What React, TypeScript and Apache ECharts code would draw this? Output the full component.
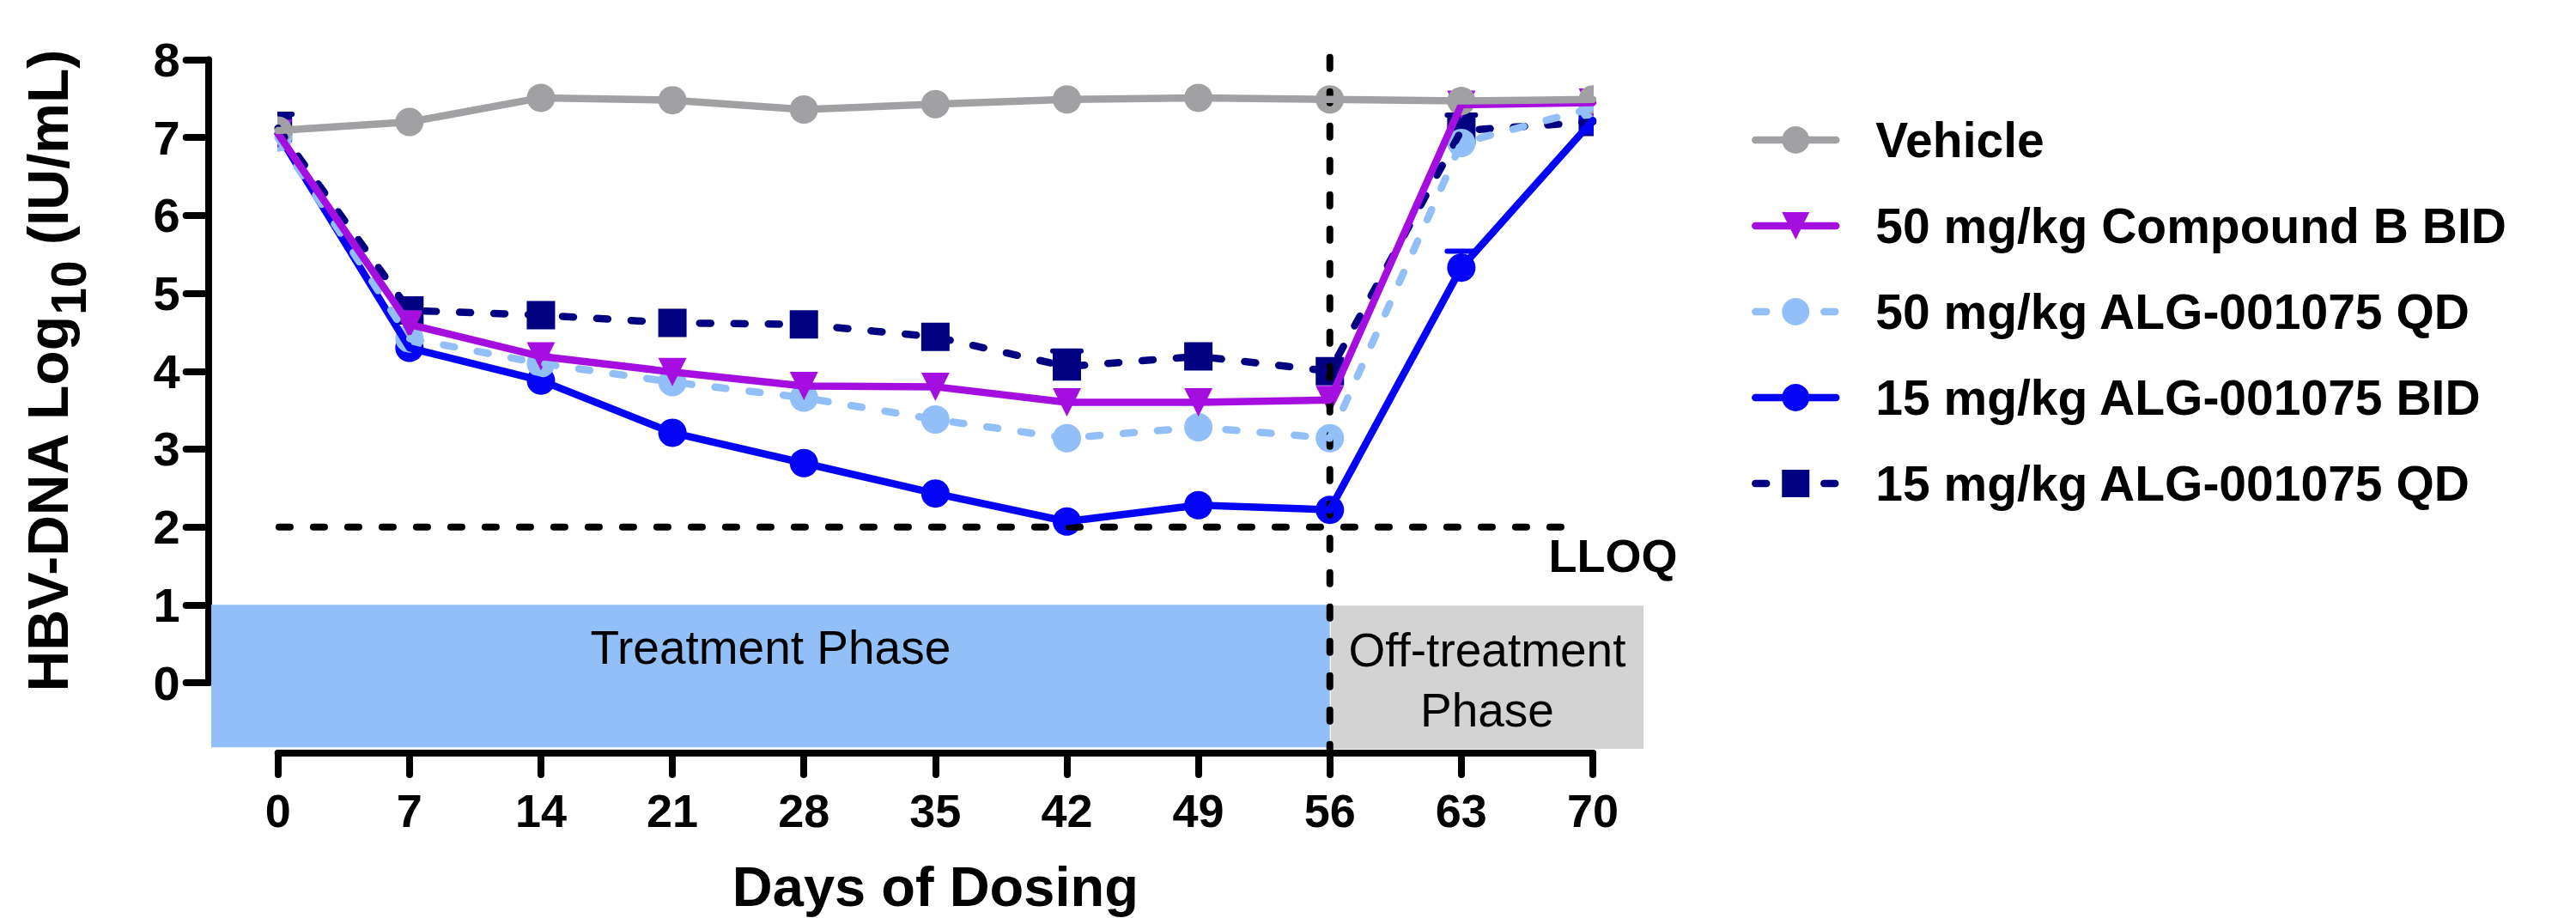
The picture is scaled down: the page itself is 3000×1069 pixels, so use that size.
import React, { useEffect, useRef } from 'react';
import * as echarts from 'echarts';

// ---- data ----
const days = [0, 7, 14, 21, 28, 35, 42, 49, 56, 63, 70];
const xTicks = [0, 7, 14, 21, 28, 35, 42, 49, 56, 63, 70];
const yTicks = [0, 1, 2, 3, 4, 5, 6, 7, 8];

const seriesNames = [
  'Vehicle',
  '50 mg/kg Compound B BID',
  '50 mg/kg ALG-001075 QD',
  '15 mg/kg ALG-001075 BID',
  '15 mg/kg ALG-001075 QD',
];
const vehicle = [7.09, 7.2, 7.51, 7.48, 7.36, 7.43, 7.49, 7.51, 7.49, 7.47, 7.49];
const compoundB_BID = [7.05, 4.6, 4.19, 3.99, 3.81, 3.8, 3.6, 3.6, 3.63, 7.42, 7.45];
const alg50_QD = [7.0, 4.42, 4.1, 3.86, 3.66, 3.38, 3.14, 3.28, 3.14, 6.93, 7.38];
const alg15_BID = [7.05, 4.3, 3.88, 3.21, 2.82, 2.43, 2.07, 2.28, 2.22, 5.33, 7.22];
const alg15_QD = [7.12, 4.78, 4.72, 4.62, 4.6, 4.44, 4.06, 4.19, 4.0, 7.09, 7.2];
const zeroErr = [0, 0, 0, 0, 0, 0, 0, 0, 0, 0, 0];
const alg15_BID_err = [0, 0, 0, 0, 0, 0, 0, 0, 0, 0.21, 0];
const alg15_QD_err = [0.18, 0, 0, 0, 0, 0, 0.2, 0, 0, 0.2, 0];

const phaseNames = ['Treatment Phase', 'Off-treatment\nPhase'];
const phaseStart = [-3.55, 56.05];
const phaseEnd = [56, 72.7];
const phaseTop = [1.0, 0.99];
const phaseBottom = [-0.83, -0.85];
const phaseLabelY = [0.45, 0.03];

const lloqValue = 2;
const lloqExtent = [-3.6, 69];
const dosingEnd = 56;
const dosingEndExtent = [8.03, -0.9];
const annotationTexts = ['LLOQ'];
const annotationPos = [[74.5, 1.63]];

// ---- styles ----
const FONT = '"Liberation Sans", Arial, Helvetica, sans-serif';
const phaseColors = ['#92bff8', '#d3d3d3'];
const SYM = 33;
const LW = 8.5;
const AXW = 8;
const DASH = [13, 27];

type Grp = {
  name: string;
  values: number[];
  err: number[];
  color: string;
  dashed: boolean;
  symbol: 'circle' | 'rect' | 'triangle';
};

const groups: Grp[] = [
  { name: seriesNames[0], values: vehicle, err: zeroErr, color: '#a1a1a4', dashed: false, symbol: 'circle' },
  { name: seriesNames[1], values: compoundB_BID, err: zeroErr, color: '#a40fe0', dashed: false, symbol: 'triangle' },
  { name: seriesNames[2], values: alg50_QD, err: zeroErr, color: '#92bff8', dashed: true, symbol: 'circle' },
  { name: seriesNames[3], values: alg15_BID, err: alg15_BID_err, color: '#0505f5', dashed: false, symbol: 'circle' },
  { name: seriesNames[4], values: alg15_QD, err: alg15_QD_err, color: '#000080', dashed: true, symbol: 'rect' },
];
// drawing order (bottom -> top)
const drawOrder = [4, 3, 2, 1, 0];

function markerShape(kind: string, x: number, y: number, color: string) {
  const h = SYM / 2;
  if (kind === 'rect') {
    return { type: 'rect', shape: { x: x - h, y: y - h, width: SYM, height: SYM }, style: { fill: color } };
  }
  if (kind === 'triangle') {
    return {
      type: 'polygon',
      shape: { points: [[x - h, y - h], [x + h, y - h], [x, y + h]] },
      style: { fill: color },
    };
  }
  return { type: 'circle', shape: { cx: x, cy: y, r: h }, style: { fill: color } };
}

function buildOption() {
  const series: any[] = [];

  // phase boxes
  series.push({
    type: 'custom',
    name: 'phases',
    silent: true,
    clip: false,
    encode: { x: [0, 1], y: [2, 3] },
    data: phaseNames.map((_, i) => [phaseStart[i], phaseEnd[i], phaseTop[i], phaseBottom[i], phaseLabelY[i]]),
    renderItem: (params: any, api: any) => {
      const i = params.dataIndex;
      const p0 = api.coord([api.value(0), api.value(2)]);
      const p1 = api.coord([api.value(1), api.value(3)]);
      const ly = api.coord([api.value(0), api.value(4)])[1];
      return {
        type: 'group',
        children: [
          {
            type: 'rect',
            shape: { x: p0[0], y: p0[1], width: p1[0] - p0[0], height: p1[1] - p0[1] },
            style: { fill: phaseColors[i] },
          },
          {
            type: 'text',
            x: (p0[0] + p1[0]) / 2,
            y: ly,
            style: {
              text: phaseNames[i],
              fill: '#000',
              fontSize: 55,
              fontFamily: FONT,
              align: 'center',
              verticalAlign: 'middle',
              lineHeight: 70,
            },
          },
        ],
      };
    },
  });

  // reference lines
  series.push({
    type: 'line',
    name: 'LLOQ line',
    silent: true,
    clip: false,
    symbol: 'none',
    data: lloqExtent.map((x) => [x, lloqValue]),
    lineStyle: { color: '#000', width: AXW, type: DASH, cap: 'round' },
  });
  series.push({
    type: 'line',
    name: 'Dosing end',
    silent: true,
    clip: false,
    symbol: 'none',
    data: dosingEndExtent.map((y) => [dosingEnd, y]),
    lineStyle: { color: '#000', width: AXW, type: DASH, cap: 'round' },
  });

  drawOrder.forEach((gi) => {
    const g = groups[gi];
    const data = days.map((d, i) => [d, g.values[i]]);
    series.push({
      type: 'line',
      name: g.name,
      data,
      clip: true,
      showSymbol: false,
      symbol: g.symbol,
      symbolRotate: g.symbol === 'triangle' ? 180 : 0,
      symbolSize: SYM,
      itemStyle: { color: g.color },
      lineStyle: { color: g.color, width: LW, type: g.dashed ? DASH : 'solid', cap: 'round', join: 'round' },
    });
    series.push({
      type: 'custom',
      name: g.name + ' markers',
      clip: true,
      silent: true,
      encode: { x: 0, y: 1 },
      data,
      renderItem: (params: any, api: any) => {
        const i = params.dataIndex;
        const p = api.coord([api.value(0), api.value(1)]);
        const children: any[] = [];
        const e = g.err[i];
        if (e > 0) {
          const pt = api.coord([api.value(0), api.value(1) + e]);
          children.push({
            type: 'line',
            shape: { x1: p[0], y1: p[1], x2: pt[0], y2: pt[1] },
            style: { stroke: g.color, lineWidth: 5 },
          });
          children.push({
            type: 'line',
            shape: { x1: pt[0] - SYM / 2, y1: pt[1], x2: pt[0] + SYM / 2, y2: pt[1] },
            style: { stroke: g.color, lineWidth: 6, lineCap: 'round' },
          });
        }
        children.push(markerShape(g.symbol, p[0], p[1], g.color));
        return { type: 'group', children };
      },
    });
  });

  // annotation text
  series.push({
    type: 'custom',
    name: 'annotations',
    silent: true,
    clip: false,
    encode: { x: 0, y: 1 },
    data: annotationPos,
    renderItem: (params: any, api: any) => {
      const p = api.coord([api.value(0), api.value(1)]);
      return {
        type: 'text',
        x: p[0],
        y: p[1],
        style: {
          text: annotationTexts[params.dataIndex],
          fill: '#000',
          fontSize: 54,
          fontWeight: 'bold',
          fontFamily: FONT,
          align: 'right',
          verticalAlign: 'middle',
        },
      };
    },
  });

  return {
    animation: false,
    backgroundColor: '#ffffff',
    textStyle: { fontFamily: FONT },
    grid: { left: 323.7, right: 1145, top: 69.5, bottom: 274, containLabel: false, outerBoundsMode: 'none' },
    legend: {
      data: seriesNames,
      orient: 'vertical',
      left: 2040,
      top: 133,
      padding: 0,
      itemWidth: 94,
      itemHeight: 40,
      itemGap: 40,
      selectedMode: false,
      lineStyle: { width: LW },
      textStyle: {
        fontSize: 57,
        fontWeight: 'bold',
        color: '#000',
        fontFamily: FONT,
        lineHeight: 60,
        padding: [0, 0, 0, 41],
      },
    },
    xAxis: {
      type: 'value',
      min: xTicks[0],
      max: xTicks[xTicks.length - 1],
      interval: xTicks[1] - xTicks[0],
      offset: 82,
      splitLine: { show: false },
      axisLine: { show: true, onZero: false, lineStyle: { color: '#000', width: AXW, cap: 'round' } },
      axisTick: { show: true, inside: false, length: 25, lineStyle: { color: '#000', width: AXW, cap: 'round' } },
      axisLabel: { fontSize: 54, fontWeight: 'bold', color: '#000', margin: 40, fontFamily: FONT },
      name: 'Days of Dosing',
      nameLocation: 'middle',
      nameGap: 123,
      nameTextStyle: { fontSize: 65, fontWeight: 'bold', color: '#000', fontFamily: FONT },
    },
    yAxis: {
      type: 'value',
      min: yTicks[0],
      max: yTicks[yTicks.length - 1],
      interval: yTicks[1] - yTicks[0],
      offset: 81,
      splitLine: { show: false },
      axisLine: { show: true, onZero: false, lineStyle: { color: '#000', width: AXW, cap: 'round' } },
      axisTick: { show: true, inside: false, length: 26, lineStyle: { color: '#000', width: AXW, cap: 'round' } },
      axisLabel: { fontSize: 56, fontWeight: 'bold', color: '#000', margin: 33, fontFamily: FONT },
      name: '{a|HBV-DNA Log}{s|10}{a| (IU/mL)}',
      nameLocation: 'middle',
      nameRotate: 90,
      nameGap: 134,
      nameTextStyle: {
        rich: {
          a: { fontSize: 66, fontWeight: 'bold', color: '#000', fontFamily: FONT, lineHeight: 86, verticalAlign: 'top' },
          s: { fontSize: 57, fontWeight: 'bold', color: '#000', fontFamily: FONT, lineHeight: 57, verticalAlign: 'bottom' },
        },
      },
    },
    series,
  };
}

export default function App() {
  const ref = useRef<HTMLDivElement>(null);
  useEffect(() => {
    if (!ref.current) return;
    const chart = echarts.init(ref.current, undefined, { renderer: 'svg' });
    chart.setOption(buildOption() as any);
    return () => chart.dispose();
  }, []);
  return (
    <div
      ref={ref}
      style={{ position: 'fixed', left: 0, top: 0, width: 3000, height: 1069, background: '#fff' }}
    />
  );
}
